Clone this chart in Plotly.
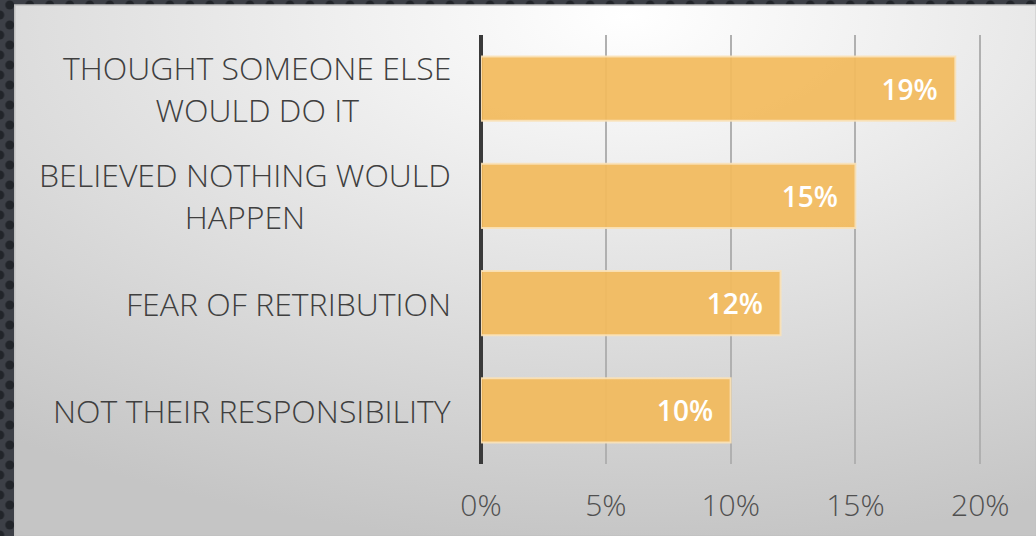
import base64
import plotly.graph_objects as go

categories = ["THOUGHT SOMEONE ELSE<br>WOULD DO IT", "BELIEVED NOTHING WOULD<br>HAPPEN",
              "FEAR OF RETRIBUTION", "NOT THEIR RESPONSIBILITY"]
values = [0.19, 0.15, 0.12, 0.10]
tick_vals = [0, 0.05, 0.10, 0.15, 0.20]
tick_text = ["0%", "5%", "10%", "15%", "20%"]

W, H = 1036, 536
XMAX = 0.2015
L, T, B = 481, 35, 72
pw = (980 - 481) * XMAX / 0.20
R = W - L - pw
ph = H - T - B

svg = f"""<svg xmlns='http://www.w3.org/2000/svg' width='{W}' height='{H}' viewBox='0 0 {W} {H}'>
<defs>
<pattern id='p' width='20' height='20' patternUnits='userSpaceOnUse'>
<rect width='20' height='20' fill='#3d4047'/>
<circle cx='10' cy='5' r='4.5' fill='#22252a'/>
<circle cx='0' cy='15' r='4.5' fill='#22252a'/>
<circle cx='20' cy='15' r='4.5' fill='#22252a'/>
</pattern>
<radialGradient id='g' cx='0.6' cy='0.02' r='1.0'>
<stop offset='0' stop-color='#ffffff'/>
<stop offset='0.25' stop-color='#f1f1f1'/>
<stop offset='1' stop-color='#c5c5c5'/>
</radialGradient>
</defs>
<rect width='{W}' height='{H}' fill='url(#p)'/>
<rect x='15' y='5' width='{W-15}' height='{H-5}' fill='url(#g)' stroke='#c0c0c0' stroke-width='1.5'/>
</svg>"""
src = "data:image/svg+xml;base64," + base64.b64encode(svg.encode()).decode()

fig = go.Figure(go.Bar(
    x=values, y=categories, orientation="h",
    marker=dict(color="rgba(242,186,92,0.93)", line=dict(color="rgba(250,226,185,0.9)", width=2)),
    text=[f"{round(v*100)}%\u00a0\u00a0" for v in values], textposition="inside", insidetextanchor="end",
    textfont=dict(color="white", size=28, family="Open Sans", weight=600),
    cliponaxis=False,
))

for c in categories:
    fig.add_annotation(x=-28 / pw, xref="paper", y=c, yref="y", text=c, showarrow=False,
                       xanchor="right", yanchor="middle", align="center",
                       font=dict(size=32, color="#3f3f3f", family="Open Sans", weight=300))

fig.add_layout_image(dict(source=src, xref="paper", yref="paper", x=-L / pw, y=(H - B) / ph,
                          sizex=W / pw, sizey=H / ph, xanchor="left", yanchor="top",
                          sizing="stretch", layer="below"))

fig.update_layout(
    width=W, height=H, margin=dict(l=L, r=R, t=T, b=B),
    paper_bgcolor="#3d4047", plot_bgcolor="rgba(0,0,0,0)",
    bargap=0.4, showlegend=False,
    xaxis=dict(range=[0, XMAX], tickvals=tick_vals, ticktext=tick_text, showgrid=True,
               gridcolor="#b0b0b0", gridwidth=2, zeroline=True, zerolinecolor="#3a3a3a",
               zerolinewidth=4, showline=False, ticks="", ticklabelstandoff=21,
               tickfont=dict(size=30, color="#505050", family="Open Sans", weight=300)),
    yaxis=dict(autorange="reversed", showticklabels=False, showgrid=False, zeroline=False),
)

fig.write_html("out.html")
